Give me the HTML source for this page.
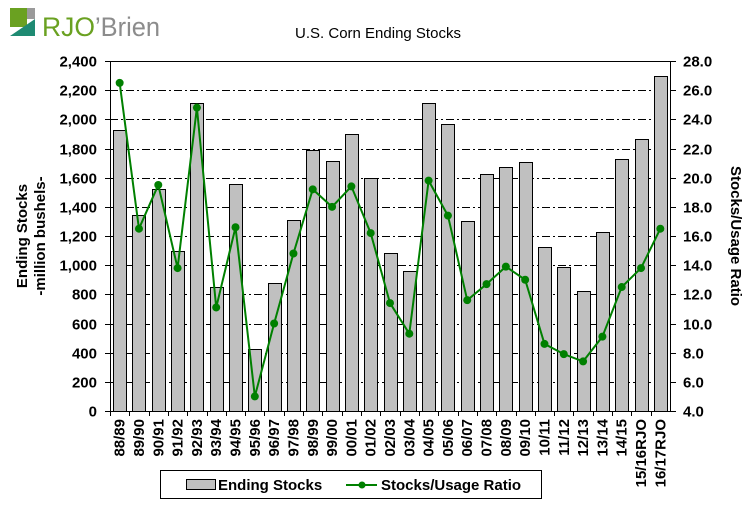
<!DOCTYPE html>
<html><head><meta charset="utf-8"><style>
body{margin:0;background:#fff;}
svg text{font-family:"Liberation Sans",Arial,sans-serif;}
.b{font-weight:bold;}
</style></head><body>
<svg id="c" width="756" height="516" xmlns="http://www.w3.org/2000/svg">
<g>
<rect x="10" y="8" width="17" height="19" fill="#6aa121"/>
<rect x="27" y="8" width="8" height="11" fill="#9a9a9a"/>
<polygon points="10,36 35,19 35,36" fill="#1e8a72"/>
<text x="42" y="36" font-size="27" fill="#6aa121" textLength="53" lengthAdjust="spacingAndGlyphs">RJO</text>
<text x="95" y="36" font-size="27" fill="#8c8c8c" textLength="65" lengthAdjust="spacingAndGlyphs">’Brien</text>
</g>
<text x="378" y="38" font-size="15" text-anchor="middle">U.S. Corn Ending Stocks</text>
<g id="grid"></g><g id="bars"></g><g id="axes"></g><g id="line"></g>
<text class="b" transform="translate(27,236) rotate(-90)" font-size="15" text-anchor="middle">Ending Stocks</text>
<text class="b" transform="translate(45,236) rotate(-90)" font-size="15" text-anchor="middle">-million bushels-</text>
<text class="b" transform="translate(731,236) rotate(90)" font-size="15" text-anchor="middle">Stocks/Usage Ratio</text>
<g>
<rect x="160.5" y="470.5" width="381" height="28" fill="#fff" stroke="#000"/>
<rect x="186.5" y="479.5" width="29" height="10" fill="#c0c0c0" stroke="#000"/>
<text class="b" x="218" y="490" font-size="15">Ending Stocks</text>
<line x1="346" y1="485" x2="377" y2="485" stroke="#008000" stroke-width="2"/>
<circle cx="362" cy="485" r="3.5" fill="#008000"/>
<text class="b" x="381" y="490" font-size="15">Stocks/Usage Ratio</text>
</g>
</svg>
<script>
const categories=["88/89","89/90","90/91","91/92","92/93","93/94","94/95","95/96","96/97","97/98","98/99","99/00","00/01","01/02","02/03","03/04","04/05","05/06","06/07","07/08","08/09","09/10","10/11","11/12","12/13","13/14","14/15","15/16RJO","16/17RJO"];
const stocks=[1930,1345,1520,1100,2110,850,1560,425,880,1310,1790,1715,1900,1600,1085,960,2115,1965,1305,1625,1675,1710,1125,990,820,1230,1730,1865,2300];
const ratio=[26.5,16.5,19.5,13.8,24.8,11.1,16.6,5.0,10.0,14.8,19.2,18.0,19.4,16.2,11.4,9.3,19.8,17.4,11.6,12.7,13.9,13.0,8.6,7.9,7.4,9.1,12.5,13.8,16.5];
const leftTicks=[0,200,400,600,800,1000,1200,1400,1600,1800,2000,2200,2400];
const rightTicks=[4,6,8,10,12,14,16,18,20,22,24,26,28];
const NS="http://www.w3.org/2000/svg";
const L=110,R=670,T=61,B=411;
const yL=v=>B-(v/2400)*(B-T);
const yR=v=>B-((v-4)/24)*(B-T);
const bw=(R-L)/categories.length;
const xc=i=>L+bw*(i+0.5);
function mk(tag,attrs,parent){const e=document.createElementNS(NS,tag);for(const k in attrs)e.setAttribute(k,attrs[k]);document.getElementById(parent).appendChild(e);return e;}
leftTicks.forEach((v,i)=>{
 const y=Math.round(yL(v))+0.5;
 if(i>0&&i<leftTicks.length-1){const g=mk('line',{x1:L,x2:R,y1:y,y2:y,stroke:'#000','stroke-dasharray':'8,3,2,3'},'grid');
 
 }
 mk('line',{x1:L-5,x2:L,y1:y,y2:y,stroke:'#000'},'axes');
 const t=mk('text',{x:L-13,y:y+5,'font-size':15,'text-anchor':'end',class:'b'},'axes');t.textContent=v.toLocaleString('en-US');
 
 
});
rightTicks.forEach(v=>{
 const y=Math.round(yR(v))+0.5;
 mk('line',{x1:R,x2:R+6,y1:y,y2:y,stroke:'#000'},'axes');
 const t=mk('text',{x:R+13,y:y+5,'font-size':15,class:'b'},'axes');t.textContent=v.toFixed(1);
 
 
});
mk('line',{x1:L,x2:R,y1:T+0.5,y2:T+0.5,stroke:'#000'},'axes');
mk('line',{x1:L+0.5,x2:L+0.5,y1:T,y2:B,stroke:'#000'},'axes');
mk('line',{x1:R+0.5,x2:R+0.5,y1:T,y2:B,stroke:'#000'},'axes');
mk('line',{x1:L,x2:R,y1:B+0.5,y2:B+0.5,stroke:'#000'},'axes');
categories.forEach((c,i)=>{
 const x=xc(i);
 const b=mk('rect',{x:Math.round(x-6.5)+0.5,y:Math.round(yL(stocks[i]))+0.5,width:13,height:B-Math.round(yL(stocks[i])),fill:'#c0c0c0',stroke:'#000'},'bars');
 
 
 const tx=Math.round(L+bw*i)+0.5;
 mk('line',{x1:tx,x2:tx,y1:B,y2:B+5,stroke:'#000'},'axes');
 const t=mk('text',{transform:`translate(${x+5},${B+8}) rotate(-90)`,'font-size':15,'text-anchor':'end',class:'b'},'axes');t.textContent=c;
 
 
});
const pl=mk('polyline',{points:ratio.map((v,i)=>xc(i)+','+yR(v)).join(' '),fill:'none',stroke:'#008000','stroke-width':2},'line');


ratio.forEach((v,i)=>{
 const p=mk('circle',{cx:xc(i),cy:yR(v),r:4,fill:'#008000'},'line');
 
 
});
</script>
</body></html>
